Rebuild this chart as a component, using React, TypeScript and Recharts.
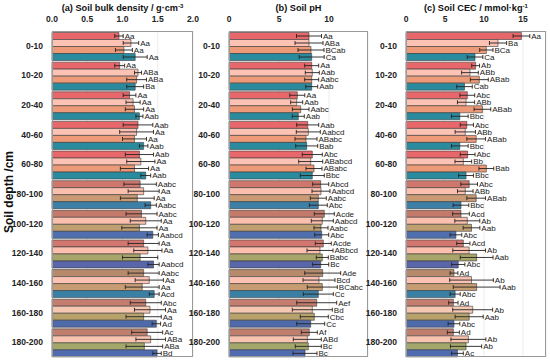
import React from 'react';
import { BarChart, Bar, XAxis, YAxis, CartesianGrid, ErrorBar, LabelList, Cell } from 'recharts';

const depths = ['0-10', '10-20', '20-40', '40-60', '60-80', '80-100', '100-120', '120-140', '140-160', '160-180', '180-200'];

// (a) bulk density
const bdT1 = [0.95, 0.96, 1.1, 1.22, 1.24, 1.25, 1.27, 1.3, 1.3, 1.33, 1.35];
const bdT1Err = [0.06, 0.07, 0.09, 0.21, 0.2, 0.23, 0.22, 0.22, 0.22, 0.22, 0.22];
const bdT1Sig = ['Aa', 'Aa', 'Aa', 'Aab', 'Aab', 'Aabc', 'Aabc', 'Aa', 'Aabc', 'Abc', 'Ac'];
const bdT2 = [1.12, 1.22, 1.15, 1.2, 1.26, 1.3, 1.33, 1.36, 1.38, 1.39, 1.4];
const bdT2Err = [0.11, 0.05, 0.1, 0.24, 0.2, 0.22, 0.22, 0.2, 0.2, 0.22, 0.21];
const bdT2Sig = ['Aa', 'ABa', 'Aa', 'Aa', 'Aa', 'Aa', 'Aa', 'Aa', 'Aa', 'Aa', 'ABa'];
const bdT3 = [1.02, 1.2, 1.17, 1.17, 1.17, 1.21, 1.24, 1.25, 1.28, 1.3, 1.31];
const bdT3Err = [0.12, 0.14, 0.13, 0.17, 0.2, 0.24, 0.25, 0.25, 0.24, 0.25, 0.26];
const bdT3Sig = ['Aa', 'ABa', 'Aa', 'Aa', 'Aa', 'Aa', 'Aa', '', 'Aa', 'Aa', 'ABa'];
const bdT4 = [1.18, 1.18, 1.24, 1.3, 1.33, 1.4, 1.43, 1.44, 1.45, 1.48, 1.49];
const bdT4Err = [0.17, 0.12, 0.05, 0.06, 0.07, 0.08, 0.08, 0.08, 0.07, 0.06, 0.06];
const bdT4Sig = ['Aa', 'Ba', 'Aab', 'Aab', 'Aab', 'Aabc', 'Aabcd', 'Aabcd', 'Acd', 'Ad', 'Bd'];

// (b) pH
const phT1 = [8.0, 8.27, 6.83, 7.87, 8.33, 9.17, 9.53, 9.43, 9.37, 8.77, 8.03];
const phT1Err = [1.25, 0.7, 0.75, 1.1, 1.0, 0.8, 1.0, 0.8, 1.8, 2.0, 0.8];
const phT1Sig = ['Aa', 'Aa', 'Aa', 'Aab', 'Abc', 'Abcd', 'Acde', 'Acde', 'Ade', 'Aef', 'Af'];
const phT2 = [8.0, 8.33, 6.77, 7.93, 8.17, 9.2, 9.33, 9.1, 9.0, 8.33, 7.83];
const phT2Err = [1.4, 0.7, 0.6, 1.2, 1.2, 0.9, 1.1, 1.3, 1.6, 2.0, 1.4];
const phT2Sig = ['ABa', 'Aab', 'Aab', 'Aabcd', 'ABabcd', 'Aabcd', 'Aabcd', 'ABbcd', 'Bcd', 'Bd', 'ABd'];
const phT3 = [8.2, 8.27, 7.17, 7.7, 8.5, 8.93, 9.2, 9.33, 9.33, 8.53, 7.93];
const phT3Err = [1.3, 0.7, 0.83, 1.1, 0.8, 0.8, 0.7, 0.6, 1.5, 1.4, 1.3];
const phT3Sig = ['BCab', 'Aabc', 'Aabc', 'ABabc', 'ABabc', 'Aabc', 'Aabc', 'Babc', 'BCabc', 'Cbc', 'Bc'];
const phT4 = [8.27, 8.27, 6.93, 7.77, 8.33, 8.93, 9.27, 9.17, 8.93, 8.17, 7.6];
const phT4Err = [1.25, 0.6, 0.6, 1.1, 1.2, 0.9, 0.7, 0.8, 1.5, 1.4, 1.2];
const phT4Sig = ['Ca', 'Aab', 'Aab', 'Bab', 'Bbc', 'Abc', 'Abc', 'Bc', 'Cc', 'Cc', 'Bc'];

// (c) CEC
const cecT1 = [14.8, 8.93, 7.86, 7.8, 7.9, 8.1, 7.05, 7.35, 6.15, 6.07, 6.07];
const cecT1Err = [1.07, 0.5, 0.95, 0.85, 0.95, 1.07, 1.07, 0.85, 0.5, 0.6, 0.77];
const cecT1Sig = ['Aa', 'Ab', 'Abc', 'Abc', 'Abc', 'Abc', 'Acd', 'Acd', 'Ad', 'Ad', 'Ad'];
const cecT2 = [11.8, 8.2, 7.7, 7.6, 7.35, 7.6, 7.86, 8.1, 8.4, 8.55, 8.0];
const cecT2Err = [1.1, 1.07, 1.1, 1.3, 1.07, 1.0, 1.6, 2.1, 2.8, 2.56, 2.24];
const cecT2Sig = ['Ba', 'ABb', 'ABb', 'ABb', 'Bb', 'ABb', 'Ab', 'Ab', 'Ab', 'Ab', 'Ab'];
const cecT3 = [10.3, 9.4, 9.8, 9.0, 10.3, 9.0, 8.4, 9.06, 9.06, 8.1, 7.7];
const cecT3Err = [0.85, 1.15, 1.07, 1.2, 0.95, 1.2, 1.07, 2.1, 3.0, 1.8, 2.0];
const cecT3Sig = ['BCa', 'ABab', 'ABab', 'ABab', 'Bab', 'ABab', 'Aab', 'Aab', 'Aab', 'Aab', 'Ab'];
const cecT4 = [8.85, 7.5, 6.9, 6.9, 7.7, 7.05, 6.4, 6.7, 6.3, 6.15, 6.6];
const cecT4Err = [1.0, 1.0, 1.07, 1.07, 0.95, 1.0, 0.75, 0.85, 0.65, 0.75, 0.75];
const cecT4Sig = ['Ca', 'Cab', 'Bbc', 'Bbc', 'Bbc', 'Bbc', 'Abc', 'Abc', 'Abc', 'Abc', 'Ac'];

// fill colours per depth group (the original's colours drift lower down)
const palette = [
  ['#e8676a', '#fcc2b3', '#ec9a78', '#2b8b9e'],
  ['#e8676a', '#fcc2b3', '#ec9a78', '#2b8b9e'],
  ['#e8676a', '#fcc2b3', '#ec9a78', '#2b8b9e'],
  ['#e8676a', '#fcc2b3', '#ec9a78', '#2b8b9e'],
  ['#e8676a', '#fcc2b3', '#ec9a78', '#2b8b9e'],
  ['#d0776d', '#fbbfae', '#c99a74', '#3d7fa6'],
  ['#c47a6a', '#fbbfae', '#c0a070', '#4f6fae'],
  ['#d27770', '#fbbfae', '#a8a56a', '#5a66aa'],
  ['#b88a6c', '#fcc2b3', '#c89c72', '#3a80a4'],
  ['#c47d6e', '#f6c8b2', '#b7a26c', '#4f6aaa'],
  ['#c07f6c', '#f8c4b0', '#a3a76a', '#506bb0'],
];

const FONT = 'Arial, "Liberation Sans", sans-serif';
const H = 363;
const PLOT_TOP = 31;
const PLOT_BOTTOM = 357;

type Series = { v: number[]; e: number[]; s: string[] };

function buildRows(series: Series[]) {
  return depths.map((d, i) => {
    const row: Record<string, string | number> = { depth: d };
    series.forEach((sr, k) => {
      row[`t${k}`] = sr.v[i];
      row[`t${k}e`] = sr.e[i];
    });
    return row;
  });
}

function sigLabel(sr: Series) {
  return (props: any) => {
    const { x, y, width, height, index } = props;
    if (index == null) return null;
    const v = sr.v[index];
    const pxPerUnit = Number(width) / v;
    const lx = Number(x) + Number(width) + sr.e[index] * pxPerUnit + 1.5;
    return (
      <text x={lx} y={Number(y) + Number(height) / 2} dy="0.35em" fontSize={8} fill="#222" fontFamily={FONT}>
        {sr.s[index]}
      </text>
    );
  };
}

interface PanelProps {
  left: number;
  width: number;
  axisW: number;
  plotLeft: number;
  plotRight: number;
  domain: [number, number];
  ticks: number[];
  tickFmt?: (v: number) => string;
  title: React.ReactNode;
  series: Series[];
}

function Panel({ left, width, axisW, plotLeft, plotRight, domain, ticks, tickFmt, title, series }: PanelProps) {
  const rows = buildRows(series);
  return (
    <div style={{ position: 'absolute', left, top: 0, width, height: H }}>
      <BarChart
        width={width}
        height={H}
        data={rows}
        layout="vertical"
        barGap={0}
        barCategoryGap={1.5}
        margin={{ top: PLOT_TOP - 14, right: width - plotRight, bottom: H - PLOT_BOTTOM, left: plotLeft - axisW }}
      >
        <CartesianGrid horizontal={false} stroke="#ececec" />
        <XAxis
          type="number"
          orientation="top"
          height={14}
          domain={domain}
          ticks={ticks}
          tickFormatter={tickFmt}
          axisLine={false}
          tickLine={false}
          tickMargin={3}
          tick={{ fontSize: 8.5, fontWeight: 700, fill: '#222', fontFamily: FONT }}
        />
        <YAxis
          type="category"
          dataKey="depth"
          width={axisW}
          axisLine={false}
          tickLine={false}
          tickMargin={3}
          interval={0}
          tick={{ fontSize: 8.5, fontWeight: 700, fill: '#222', fontFamily: FONT }}
        />
        {series.map((sr, k) => (
          <Bar key={k} dataKey={`t${k}`} isAnimationActive={false} stroke="#3a3a3a" strokeWidth={0.6}>
            {rows.map((_, i) => (
              <Cell key={i} fill={palette[i][k]} />
            ))}
            <ErrorBar dataKey={`t${k}e`} direction="x" width={2} stroke="#222" strokeWidth={0.9} />
            <LabelList dataKey={`t${k}`} content={sigLabel(sr)} />
          </Bar>
        ))}
      </BarChart>
      <div
        style={{
          position: 'absolute',
          left: plotLeft,
          top: PLOT_TOP,
          width: plotRight - plotLeft,
          height: PLOT_BOTTOM - PLOT_TOP,
          border: '1px solid #9a9a9a',
          boxSizing: 'border-box',
          pointerEvents: 'none',
        }}
      />
      <svg style={{ position: 'absolute', left: 0, top: 0 }} width={width} height={16}>
        <text x={(plotLeft + plotRight) / 2} y={11} textAnchor="middle" fontSize={9.2} fontWeight={700} fill="#111" fontFamily={FONT}>
          {title}
        </text>
      </svg>
    </div>
  );
}

export default function App() {
  return (
    <div style={{ position: 'absolute', left: 0, top: 0, width: 550, height: H, background: '#fff', overflow: 'hidden' }}>
      <Panel
        left={0}
        width={200}
        axisW={46}
        plotLeft={52}
        plotRight={193}
        domain={[0, 2]}
        ticks={[0, 0.5, 1, 1.5, 2]}
        tickFmt={(v) => v.toFixed(1)}
        title={
          <>
            <tspan>(a) Soil bulk density / g·cm</tspan>
            <tspan dy={-3.5} fontSize={6}>-3</tspan>
          </>
        }
        series={[
          { v: bdT1, e: bdT1Err, s: bdT1Sig },
          { v: bdT2, e: bdT2Err, s: bdT2Sig },
          { v: bdT3, e: bdT3Err, s: bdT3Sig },
          { v: bdT4, e: bdT4Err, s: bdT4Sig },
        ]}
      />
      <Panel
        left={183}
        width={190}
        axisW={43}
        plotLeft={46}
        plotRight={185}
        domain={[0, 13.9]}
        ticks={[0, 5, 10]}
        title="(b) Soil pH"
        series={[
          { v: phT1, e: phT1Err, s: phT1Sig },
          { v: phT2, e: phT2Err, s: phT2Sig },
          { v: phT3, e: phT3Err, s: phT3Sig },
          { v: phT4, e: phT4Err, s: phT4Sig },
        ]}
      />
      <Panel
        left={360}
        width={190}
        axisW={43}
        plotLeft={46}
        plotRight={186}
        domain={[0, 17.95]}
        ticks={[0, 5, 10, 15]}
        title={
          <>
            <tspan>(c) Soil CEC / mmol·kg</tspan>
            <tspan dy={-3.5} fontSize={6}>-1</tspan>
          </>
        }
        series={[
          { v: cecT1, e: cecT1Err, s: cecT1Sig },
          { v: cecT2, e: cecT2Err, s: cecT2Sig },
          { v: cecT3, e: cecT3Err, s: cecT3Sig },
          { v: cecT4, e: cecT4Err, s: cecT4Sig },
        ]}
      />
      <svg style={{ position: 'absolute', left: 0, top: 0 }} width={20} height={H}>
        <text
          x={0}
          y={0}
          transform="translate(13, 192) rotate(-90)"
          textAnchor="middle"
          fontSize={12}
          fontWeight={700}
          fill="#111"
          fontFamily={FONT}
        >
          Soil depth /cm
        </text>
      </svg>
    </div>
  );
}
